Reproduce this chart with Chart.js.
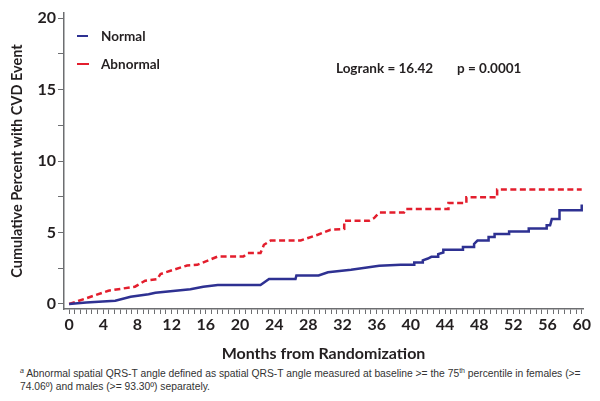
<!DOCTYPE html>
<html><head><meta charset="utf-8">
<script src="https://cdn.jsdelivr.net/npm/chart.js@4.4.0/dist/chart.umd.min.js"></script>
<style>
html,body{margin:0;padding:0;background:#fff;}
#wrap{position:relative;width:600px;height:401px;overflow:hidden;}
#cbox{position:absolute;left:0;top:0;width:600px;height:366px;}
.lg{position:absolute;font-family:Lato,"Open Sans",sans-serif;font-weight:700;font-size:13.5px;color:#231f20;line-height:16px;white-space:nowrap;}
.sw{position:absolute;height:0;width:11px;}
#foot{position:absolute;left:20px;top:367px;font-family:"Liberation Sans",Arial,sans-serif;font-size:10.3px;color:#333;line-height:13px;white-space:nowrap;}
#foot sup{font-size:7px;line-height:0;}
</style></head><body>
<div id="wrap">
<div id="cbox"><canvas id="c"></canvas></div>
<div class="sw" style="left:77px;top:35px;border-top:2.5px solid #2e3192;"></div>
<div class="lg" style="left:101px;top:28px;">Normal</div>
<div class="sw" style="left:77px;top:63px;width:12px;border-top:2.5px dashed #e31e2d;"></div>
<div class="lg" style="left:101px;top:56px;">Abnormal</div>
<div class="lg" style="left:336px;top:60px;">Logrank = 16.42</div>
<div class="lg" style="left:457px;top:60px;">p = 0.0001</div>
<div id="foot"><sup><i>a</i></sup> Abnormal spatial QRS-T angle defined as spatial QRS-T angle measured at baseline &gt;= the 75<sup>th</sup> percentile in females (&gt;=<br>74.06º) and males (&gt;= 93.30º) separately.</div>
</div>
<script>
const seriesNames = ["Normal", "Abnormal"];
const normalMonths = [0,2,5.4,7.2,9.3,10.1,14.2,15.7,17.4,22.4,23.4,26.5,26.6,29.2,30.3,33,36.3,38.8,40.4,40.4,41.4,41.4,42,42.4,43.2,43.2,43.8,43.8,46.1,46.1,47.4,47.4,47.8,49.1,49.1,49.8,49.8,51.5,51.5,53.8,53.8,55.9,55.9,56.3,56.5,57.4,57.4,60,60];
const normalPct    = [0,0.1,0.23,0.5,0.68,0.79,1.03,1.21,1.33,1.33,1.75,1.75,1.99,1.99,2.22,2.4,2.67,2.74,2.74,2.9,2.9,3.05,3.18,3.3,3.3,3.49,3.6,3.79,3.79,3.98,3.98,4.2,4.44,4.44,4.68,4.68,4.89,4.89,5.07,5.07,5.28,5.28,5.5,5.5,5.94,5.94,6.55,6.55,6.95];
const abnormalMonths = [0,2.9,4.6,7.7,8.9,10.3,10.7,12.2,13.8,15,17.4,20.4,20.9,22.4,22.8,23.6,27.1,29.1,30.6,32.2,32.2,35.1,35.7,36.3,39.2,39.4,44.4,44.4,46.5,46.5,50.1,50.1,60];
const abnormalPct    = [0,0.58,0.93,1.21,1.63,1.73,2.1,2.39,2.69,2.74,3.32,3.32,3.56,3.56,4.14,4.44,4.44,4.84,5.19,5.25,5.82,5.82,6.01,6.4,6.4,6.64,6.64,7.07,7.07,7.46,7.46,8.0,8.0];
const xTickLabels = [0,4,8,12,16,20,24,28,32,36,40,44,48,52,56,60];
const yTickLabels = [0,5,10,15,20];

const toPts = (xs, ys) => xs.map((x, i) => ({x: x, y: ys[i]}));
const axisGray = '#6d6e71';
const txt = '#231f20';

new Chart(document.getElementById('c'), {
  type: 'line',
  data: {
    datasets: [
      {label: seriesNames[0], data: toPts(normalMonths, normalPct), borderColor: '#2e3192', borderWidth: 2.5, pointRadius: 0, tension: 0, fill: false},
      {label: seriesNames[1], data: toPts(abnormalMonths, abnormalPct), borderColor: '#e31e2d', borderWidth: 2.5, borderDash: [6, 3.5], pointRadius: 0, tension: 0, fill: false}
    ]
  },
  options: {
    responsive: true, maintainAspectRatio: false, animation: false,
    layout: {padding: {left: 0, right: 17, top: 13, bottom: 0}},
    plugins: {legend: {display: false}, tooltip: {enabled: false}},
    scales: {
      x: {
        type: 'linear', min: -0.6, max: 60.15,
        afterBuildTicks: (s) => {
          const t = [];
          for (let k = 0; k <= 90; k++) t.push({value: Math.round(k * 2 / 3 * 1e6) / 1e6});
          s.ticks = t;
        },
        afterFit: (s) => { s.height = 57; },
        grid: {drawOnChartArea: false, drawTicks: true, tickLength: 5, tickColor: axisGray, tickWidth: 1},
        border: {color: axisGray, width: 1.5},
        ticks: {
          autoSkip: false, maxRotation: 0, padding: 1, color: txt,
          font: {family: 'Lato', weight: '700', size: 16},
          callback: (v) => xTickLabels.includes(v) ? String(v) : ''
        },
        title: {display: true, text: 'Months from Randomization', color: txt,
          font: {family: 'Lato', weight: '700', size: 16}, padding: {top: 0, bottom: 3}}
      },
      y: {
        min: -0.35, max: 20.35,
        afterBuildTicks: (s) => {
          const t = [];
          for (let k = 0; k <= 8; k++) t.push({value: k * 2.5});
          s.ticks = t;
        },
        afterFit: (s) => { s.width = 64; },
        grid: {drawOnChartArea: false, drawTicks: true, tickLength: 6, tickColor: axisGray, tickWidth: 1},
        border: {color: axisGray, width: 1.5},
        ticks: {
          autoSkip: false, padding: 2, color: txt,
          font: {family: 'Lato', weight: '700', size: 16},
          callback: (v) => yTickLabels.includes(v) ? String(v) : ''
        },
        title: {display: true, text: 'Cumulative Percent with CVD Event', color: txt,
          font: {family: 'Lato', weight: '700', size: 14.5}, padding: {top: 9, bottom: 0}}
      }
    }
  }
});
</script>
</body></html>
